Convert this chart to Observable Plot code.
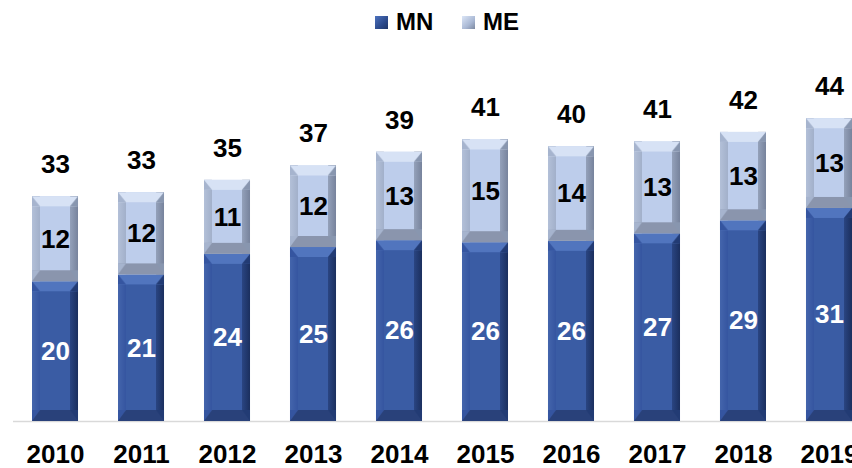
<!DOCTYPE html>
<html>
<head>
<meta charset="utf-8">
<script src="https://cdn.jsdelivr.net/npm/d3@7"></script>
<script src="https://cdn.jsdelivr.net/npm/@observablehq/plot@0.6"></script>
<style>
  html, body { margin: 0; padding: 0; background: #fff; width: 852px; height: 468px; overflow: hidden; }
  body { font-family: "Liberation Sans", Arial, sans-serif; }
  #legend { position: relative; height: 40px; width: 852px; }
  .lg { position: absolute; top: 8px; display: flex; align-items: center; font-weight: bold; font-size: 24px; color: #000; }
  .sw { width: 13px; height: 13px; margin-right: 8px; box-sizing: border-box; }
  #chart svg { display: block; }
</style>
</head>
<body>
<svg width="0" height="0" style="position:absolute">
  <defs>
    <pattern id="mnTopP" patternUnits="objectBoundingBox" patternContentUnits="objectBoundingBox" width="1" height="1">
      <rect x="0" y="0" width="0.5" height="1" fill="#3555A0"/>
      <rect x="0.5" y="0" width="0.5" height="1" fill="#223B74"/>
      <polygon points="0,0 1,0 0.826,1 0.174,1" fill="#5175BE"/>
    </pattern>
    <pattern id="mnBotP" patternUnits="objectBoundingBox" patternContentUnits="objectBoundingBox" width="1" height="1">
      <rect x="0" y="0" width="0.5" height="1" fill="#3555A0"/>
      <rect x="0.5" y="0" width="0.5" height="1" fill="#223B74"/>
      <polygon points="0.174,0 0.826,0 1,1 0,1" fill="#29417A"/>
    </pattern>
    <pattern id="meTopP" patternUnits="objectBoundingBox" patternContentUnits="objectBoundingBox" width="1" height="1">
      <rect x="0" y="0" width="0.5" height="1" fill="#A6B4CE"/>
      <rect x="0.5" y="0" width="0.5" height="1" fill="#8896AF"/>
      <polygon points="0,0 1,0 0.826,1 0.174,1" fill="#D7E2F5"/>
    </pattern>
    <pattern id="meBotP" patternUnits="objectBoundingBox" patternContentUnits="objectBoundingBox" width="1" height="1">
      <rect x="0" y="0" width="0.5" height="1" fill="#A6B4CE"/>
      <rect x="0.5" y="0" width="0.5" height="1" fill="#8896AF"/>
      <polygon points="0.174,0 0.826,0 1,1 0,1" fill="#8A95AD"/>
    </pattern>
    <linearGradient id="mnLeft" x1="0" x2="1" y1="0" y2="0">
      <stop offset="0" stop-color="#4465AC"/>
      <stop offset="1" stop-color="#3555A0"/>
    </linearGradient>
    <linearGradient id="mnRight" x1="0" x2="1" y1="0" y2="0">
      <stop offset="0" stop-color="#2A4582"/>
      <stop offset="1" stop-color="#1B2F5E"/>
    </linearGradient>
    <linearGradient id="meLeft" x1="0" x2="1" y1="0" y2="0">
      <stop offset="0" stop-color="#B3C0D8"/>
      <stop offset="1" stop-color="#A2B0CA"/>
    </linearGradient>
    <linearGradient id="meRight" x1="0" x2="1" y1="0" y2="0">
      <stop offset="0" stop-color="#94A1BA"/>
      <stop offset="1" stop-color="#77839C"/>
    </linearGradient>
  </defs>
</svg>
<div id="legend">
  <div class="lg" style="left:375px"><div class="sw" style="background:linear-gradient(135deg,#4D72BE,#2C4A8C 60%,#1E3566);"></div>MN</div>
  <div class="lg" style="left:462px"><div class="sw" style="background:linear-gradient(135deg,#DCE6F7,#A9B8D4 60%,#7C889F);"></div>ME</div>
</div>
<div id="chart"></div>
<script>
const years = ["2010","2011","2012","2013","2014","2015","2016","2017","2018","2019"];
const mn = [20.4, 21.4, 24.4, 25.4, 26.4, 26.1, 26.3, 27.4, 29.3, 31.1];
const me = [12.4, 12.0, 10.8, 11.9, 12.9, 15.0, 13.8, 13.4, 12.9, 13.1];

const segs = [];
years.forEach((yr, i) => {
  segs.push({year: yr, series: "MN", y1: 0, y2: mn[i], value: mn[i]});
  segs.push({year: yr, series: "ME", y1: mn[i], y2: mn[i] + me[i], value: me[i]});
});
const totals = years.map((yr, i) => ({year: yr, total: mn[i] + me[i]}));
const MN = segs.filter(d => d.series === "MN");
const ME = segs.filter(d => d.series === "ME");
const font = "Liberation Sans, Arial, sans-serif";
const bw = 46, side = 8, topB = 10, botB = 11;

function bar(data, c) {
  return [
    Plot.rectY(data, {x: "year", y1: "y1", y2: "y2", fill: c.face}),
    Plot.rectY(data, {x: "year", y1: "y1", y2: "y2", insetRight: bw - side, fill: c.left}),
    Plot.rectY(data, {x: "year", y1: "y1", y2: "y2", insetLeft: bw - side, fill: c.right}),
    Plot.rectY(data, {x: "year", y1: "y2", y2: "y2", insetBottom: -topB, fill: c.top}),
    Plot.rectY(data, {x: "year", y1: "y1", y2: "y1", insetTop: -botB, fill: c.bot})
  ];
}

const chart = Plot.plot({
  width: 852,
  height: 428,
  marginLeft: 13,
  marginRight: 0,
  marginTop: 0,
  marginBottom: 47,
  style: {fontFamily: font, fontSize: "26px", fontWeight: "bold", background: "#fff", overflow: "visible"},
  x: {domain: years, range: [14.8, 869.2], paddingInner: 0.465, paddingOuter: 0.2, round: false, tickSize: 0, tickPadding: 23, label: null},
  y: {domain: [0, 50], range: [381, 38.5], axis: null},
  marks: [
    Plot.ruleY([0], {stroke: "#d9d9d9", strokeWidth: 1.5}),
    ...bar(MN, {face: "#3A5CA4", left: "url(#mnLeft)", right: "url(#mnRight)", top: "url(#mnTopP)", bot: "url(#mnBotP)"}),
    ...bar(ME, {face: "#BDCDEB", left: "url(#meLeft)", right: "url(#meRight)", top: "url(#meTopP)", bot: "url(#meBotP)"}),
    Plot.text(MN, {x: "year", y: d => (d.y1 + d.y2) / 2, text: d => d3.format(".0f")(d.value), fill: "#fff", fontSize: 26, fontWeight: "bold", fontFamily: font}),
    Plot.text(ME, {x: "year", y: d => (d.y1 + d.y2) / 2, text: d => d3.format(".0f")(d.value), fill: "#000", fontSize: 26, fontWeight: "bold", fontFamily: font}),
    Plot.text(totals, {x: "year", y: "total", dy: -32, text: d => d3.format(".0f")(d.total), fill: "#000", fontSize: 26, fontWeight: "bold", fontFamily: font})
  ]
});
document.getElementById("chart").appendChild(chart);
</script>
</body>
</html>
